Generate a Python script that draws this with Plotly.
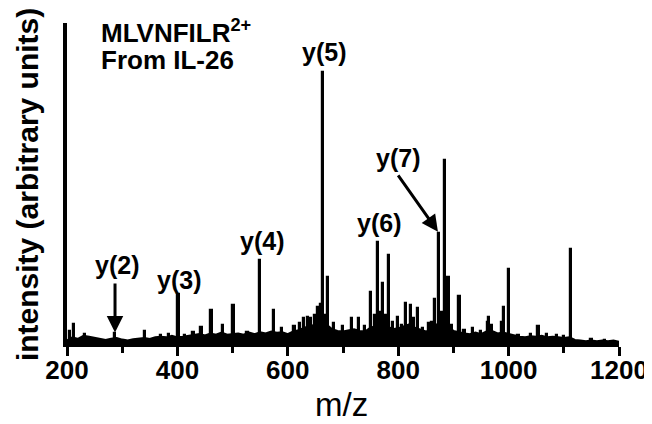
import plotly.graph_objects as go

# ---- data ----
peak_mz = [206, 213, 232, 287, 341.8, 370, 385, 401.8, 414, 429, 443.6, 461.8, 482, 501.8,
           527, 549, 575, 590, 612, 622, 630, 636, 642, 650, 654.5, 660, 663.6, 668, 673, 684,
           700, 716, 729, 740, 751, 758, 763.6, 768, 773, 778, 783.6, 790, 800, 807, 814, 823,
           828, 836, 845, 856, 862, 867, 874.5, 880, 885, 891, 897, 911, 920, 936, 950, 962,
           965, 970, 988, 991, 1000, 1018, 1040, 1054, 1070, 1087, 1100, 1112.7, 1150, 1175]
peak_int = [4.0, 6.2, 3.0, 3.4, 4.0, 2.8, 3.0, 15.6, 2.8, 3.7, 5.3, 10.6, 5.9, 12.1,
            3.7, 26.2, 10.6, 5.0, 5.5, 6.5, 8.0, 8.4, 8.0, 9.0, 11.5, 12.5, 84.7, 9.0, 20.9, 6.5,
            5.5, 8.1, 8.1, 5.5, 16.2, 9.0, 31.8, 10.0, 19.0, 9.0, 27.7, 7.0, 8.4, 6.0, 12.8, 12.1,
            8.0, 11.2, 5.0, 6.5, 7.0, 14.0, 34.6, 10.0, 57.3, 20.9, 6.0, 15.0, 4.5, 5.0, 4.0, 7.0,
            8.4, 6.0, 7.0, 11.5, 23.4, 2.8, 3.2, 5.6, 3.0, 2.8, 2.5, 29.6, 1.5, 1.3]

noise_mz = list(range(200, 1201, 10))
noise_int = [1.0, 2.0, 1.5, 2.5, 2.2, 1.8, 1.5, 1.2, 1.6, 1.8,
             1.3, 1.0, 1.4, 1.6, 1.8, 1.5, 2.0, 2.2, 2.0, 2.5,
             2.0, 2.2, 2.5, 2.8, 3.0, 2.6, 3.2, 2.8, 3.5, 2.8,
             3.0, 3.2, 2.8, 3.5, 3.0, 3.6, 3.2, 3.8, 3.4, 3.6,
             3.0, 3.8, 4.2, 5.0, 5.5, 6.0, 5.0, 6.0, 4.5, 4.0,
             3.8, 4.2, 4.5, 4.0, 3.8, 5.0, 5.5, 6.0, 5.5, 4.5,
             4.8, 5.5, 6.0, 5.0, 4.5, 3.8, 4.5, 6.0, 6.5, 5.5,
             4.0, 3.5, 3.2, 3.0, 3.5, 3.0, 3.8, 4.0, 3.2, 3.5,
             3.0, 2.5, 2.2, 2.0, 2.3, 2.2, 2.5, 2.0, 2.2, 2.0,
             1.8, 2.0, 1.2, 1.0, 0.8, 1.0, 0.8, 1.0, 0.8, 1.0,
             0.6]

ion_labels = ["y(2)", "y(3)", "y(4)", "y(5)", "y(6)", "y(7)"]
label_mz = [290.6, 403, 553, 665.6, 765, 799.6]
label_int = [24.6, 19.9, 32.1, 91.0, 37.7, 57.9]

x_ticks = [200, 400, 600, 800, 1000, 1200]

FONT = "Liberation Sans, Arial, sans-serif"

fig = go.Figure()
fig.add_trace(go.Scatter(x=noise_mz, y=noise_int, mode="lines",
                         line=dict(color="black", width=2.5),
                         fill="tozeroy", fillcolor="black", hoverinfo="skip"))
fig.add_trace(go.Bar(x=peak_mz, y=peak_int, width=4.0,
                     marker=dict(color="black", line=dict(color="black", width=1.2))))

for t, xm, yv in zip(ion_labels, label_mz, label_int):
    fig.add_annotation(x=xm, y=yv, text=t, showarrow=False,
                       xanchor="center", yanchor="middle",
                       font=dict(family=FONT, size=25, color="black", weight="bold"))

# arrows for y(2) and y(7)
fig.add_annotation(x=287, y=3.6, ax=287, ay=19.3, axref="x", ayref="y",
                   text="", showarrow=True, arrowhead=2, arrowsize=1.1,
                   arrowwidth=3, arrowcolor="black")
fig.add_annotation(x=872, y=35.0, ax=798, ay=53.0, axref="x", ayref="y",
                   text="", showarrow=True, arrowhead=2, arrowsize=1.1,
                   arrowwidth=3, arrowcolor="black")

fig.add_annotation(x=258, y=97.5, xanchor="left", yanchor="middle", showarrow=False,
                   text="MLVNFILR<sup>2+</sup>",
                   font=dict(family=FONT, size=26, color="black", weight="bold"))
fig.add_annotation(x=258, y=88.5, xanchor="left", yanchor="middle", showarrow=False,
                   text="From IL-26",
                   font=dict(family=FONT, size=26, color="black", weight="bold"))

fig.add_annotation(xref="paper", yref="paper", x=-0.0725, y=0.498, showarrow=False,
                   textangle=-90, xanchor="center", yanchor="middle",
                   text="intensity (arbitrary units)",
                   font=dict(family=FONT, size=30, color="black", weight="bold"))
fig.add_annotation(xref="paper", yref="paper", x=0.498, y=-0.19, showarrow=False,
                   xanchor="center", yanchor="middle", text="m/z",
                   font=dict(family=FONT, size=33, color="black"))

# the page body adds an 8 px offset, so margins are shifted to compensate
fig.update_layout(
    width=652, height=424,
    margin=dict(l=59, r=41, t=15, b=88, autoexpand=False),
    paper_bgcolor="white", plot_bgcolor="white",
    showlegend=False, bargap=0,
    xaxis=dict(range=[200, 1200], tickvals=x_ticks, automargin=False,
               ticks="outside", ticklen=9, tickwidth=3, tickcolor="black",
               ticklabelstandoff=-8,
               showline=True, linewidth=3, linecolor="black",
               showgrid=False, zeroline=False,
               tickfont=dict(family=FONT, size=26, color="black", weight="bold"),
               minor=dict(dtick=100, tick0=200, ticks="outside", ticklen=6,
                          tickwidth=3, tickcolor="black", showgrid=False)),
    yaxis=dict(range=[0, 100], showline=True, linewidth=3.5, linecolor="black",
               automargin=False,
               showticklabels=False, ticks="", showgrid=False, zeroline=False),
)

fig.write_html("out.html")
